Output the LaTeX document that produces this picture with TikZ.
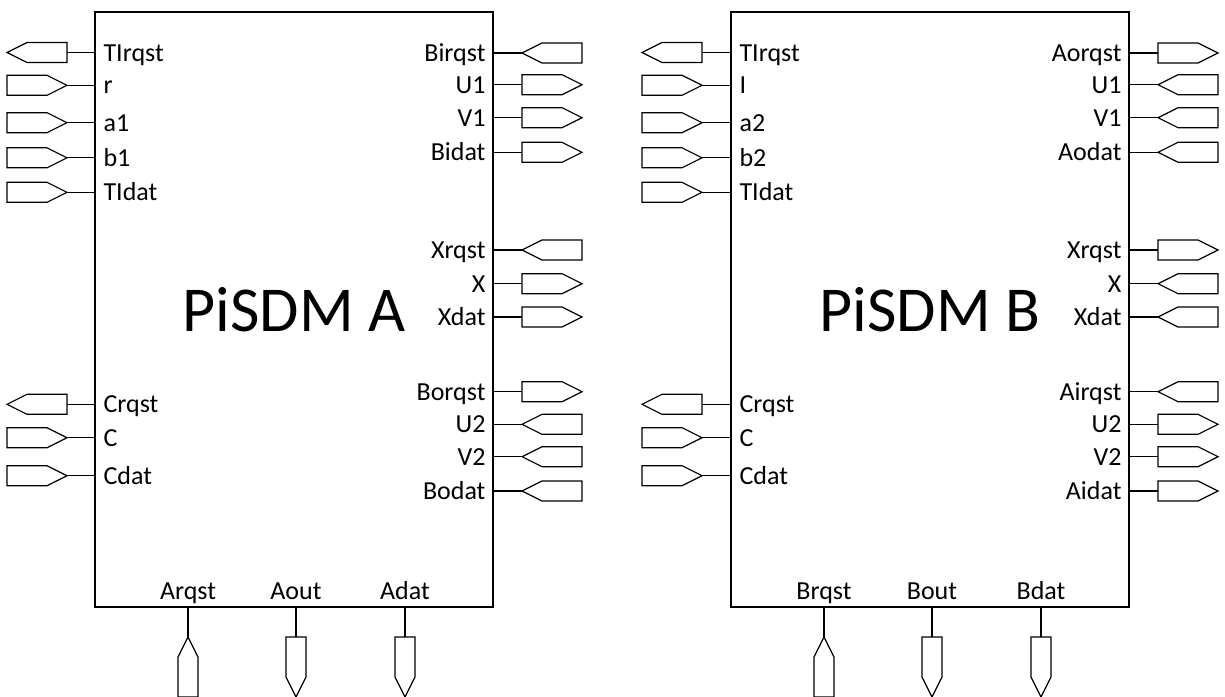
\documentclass[tikz,border=0pt]{standalone}
\usepackage{fontspec}
\setmainfont{Carlito}

\tikzset{
  SdmBox/.style={draw, line width=1.3pt, inner sep=0pt, font=\fontsize{64}{70}\selectfont},
  PinLbl/.style={inner sep=0pt, font=\fontsize{26}{30}\selectfont},
  Stub/.style={line width=1.2pt},
  PortLine/.style={draw, fill=white, line width=1.2pt, line join=miter},
  PortAnchors/.pic={
    \coordinate (-e) at (30,0); \coordinate (-w) at (-30,0); \coordinate (-n) at (0,-30);},
  PortE/.pic={\path[PortLine] (-30,-10) -- (10,-10) -- (30,0) -- (10,10) -- (-30,10) -- cycle;
    \pic{PortAnchors};},
  PortW/.pic={\path[PortLine] (30,-10) -- (-10,-10) -- (-30,0) -- (-10,10) -- (30,10) -- cycle;
    \pic{PortAnchors};},
  PortN/.pic={\path[PortLine] (-10,30) -- (-10,-10) -- (0,-30) -- (10,-10) -- (10,30) -- cycle;
    \pic{PortAnchors};},
  PortS/.pic={\path[PortLine] (-10,-30) -- (10,-30) -- (10,10) -- (0,30) -- (-10,10) -- cycle;
    \pic{PortAnchors};}
}

\begin{document}
\begin{tikzpicture}[x=1pt,y=-1pt]
\useasboundingbox (0,0) rectangle (1225,696);

\node[SdmBox, minimum width=398pt, minimum height=595pt] (A) at (294,309.5) {PiSDM A};
\node[SdmBox, minimum width=398pt, minimum height=595pt] (B) at (930,309.5) {PiSDM B};

% PiSDM A, left pins
\foreach \Y/\Txt/\Dir [count=\k] in {52.5/TIrqst/W, 85.3/r/E, 122.7/a1/E, 157.8/b1/E,
    192.3/TIdat/E, 404.3/Crqst/W, 437.7/C/E, 475.7/Cdat/E}{
  \pic (AL\k) at (37,\Y) {Port\Dir};
  \draw[Stub] (AL\k-e) -- (A.west |- AL\k-e);
  \node[PinLbl, anchor=base west] (ALt\k) at ([xshift=9pt,yshift=-8.5pt]A.west |- AL\k-e) {\Txt};
}

% PiSDM A, right pins
\foreach \Y/\Txt/\Dir [count=\k] in {53/Birqst/W, 84.7/U1/E, 117.7/V1/E, 152.3/Bidat/E,
    250/Xrqst/W, 283.7/X/E, 317/Xdat/E,
    391.7/Borqst/E, 424.3/U2/W, 456.7/V2/W, 491/Bodat/W}{
  \pic (AR\k) at (552,\Y) {Port\Dir};
  \draw[Stub] (AR\k-w) -- (A.east |- AR\k-w);
  \node[PinLbl, anchor=base east] (ARt\k) at ([xshift=-8pt,yshift=-8.5pt]A.east |- AR\k-w) {\Txt};
}

% PiSDM B, left pins
\foreach \Y/\Txt/\Dir [count=\k] in {52.5/TIrqst/W, 85.3/I/E, 122.7/a2/E, 157.8/b2/E,
    192.3/TIdat/E, 404.3/Crqst/W, 437.7/C/E, 475.7/Cdat/E}{
  \pic (BL\k) at (672,\Y) {Port\Dir};
  \draw[Stub] (BL\k-e) -- (B.west |- BL\k-e);
  \node[PinLbl, anchor=base west] (BLt\k) at ([xshift=9pt,yshift=-8.5pt]B.west |- BL\k-e) {\Txt};
}

% PiSDM B, right pins
\foreach \Y/\Txt/\Dir [count=\k] in {53/Aorqst/E, 84.7/U1/W, 117.7/V1/W, 152.3/Aodat/W,
    250/Xrqst/E, 283.7/X/W, 317/Xdat/W,
    391.7/Airqst/W, 424.3/U2/E, 456.7/V2/E, 491/Aidat/E}{
  \pic (BR\k) at (1188,\Y) {Port\Dir};
  \draw[Stub] (BR\k-w) -- (B.east |- BR\k-w);
  \node[PinLbl, anchor=base east] (BRt\k) at ([xshift=-8pt,yshift=-8.5pt]B.east |- BR\k-w) {\Txt};
}

% bottom pins
\foreach \X/\Txt/\Dir [count=\k] in {188/Arqst/N, 296/Aout/S, 405/Adat/S}{
  \pic (AB\k) at (\X,667) {Port\Dir};
  \draw[Stub] (AB\k-n) -- (A.south -| AB\k-n);
  \node[PinLbl, anchor=base] (ABt\k) at ([yshift=8pt]A.south -| AB\k-n) {\Txt};
}
\foreach \X/\Txt/\Dir [count=\k] in {824/Brqst/N, 932/Bout/S, 1041/Bdat/S}{
  \pic (BB\k) at (\X,667) {Port\Dir};
  \draw[Stub] (BB\k-n) -- (B.south -| BB\k-n);
  \node[PinLbl, anchor=base] (BBt\k) at ([yshift=8pt]B.south -| BB\k-n) {\Txt};
}

\end{tikzpicture}
\end{document}
